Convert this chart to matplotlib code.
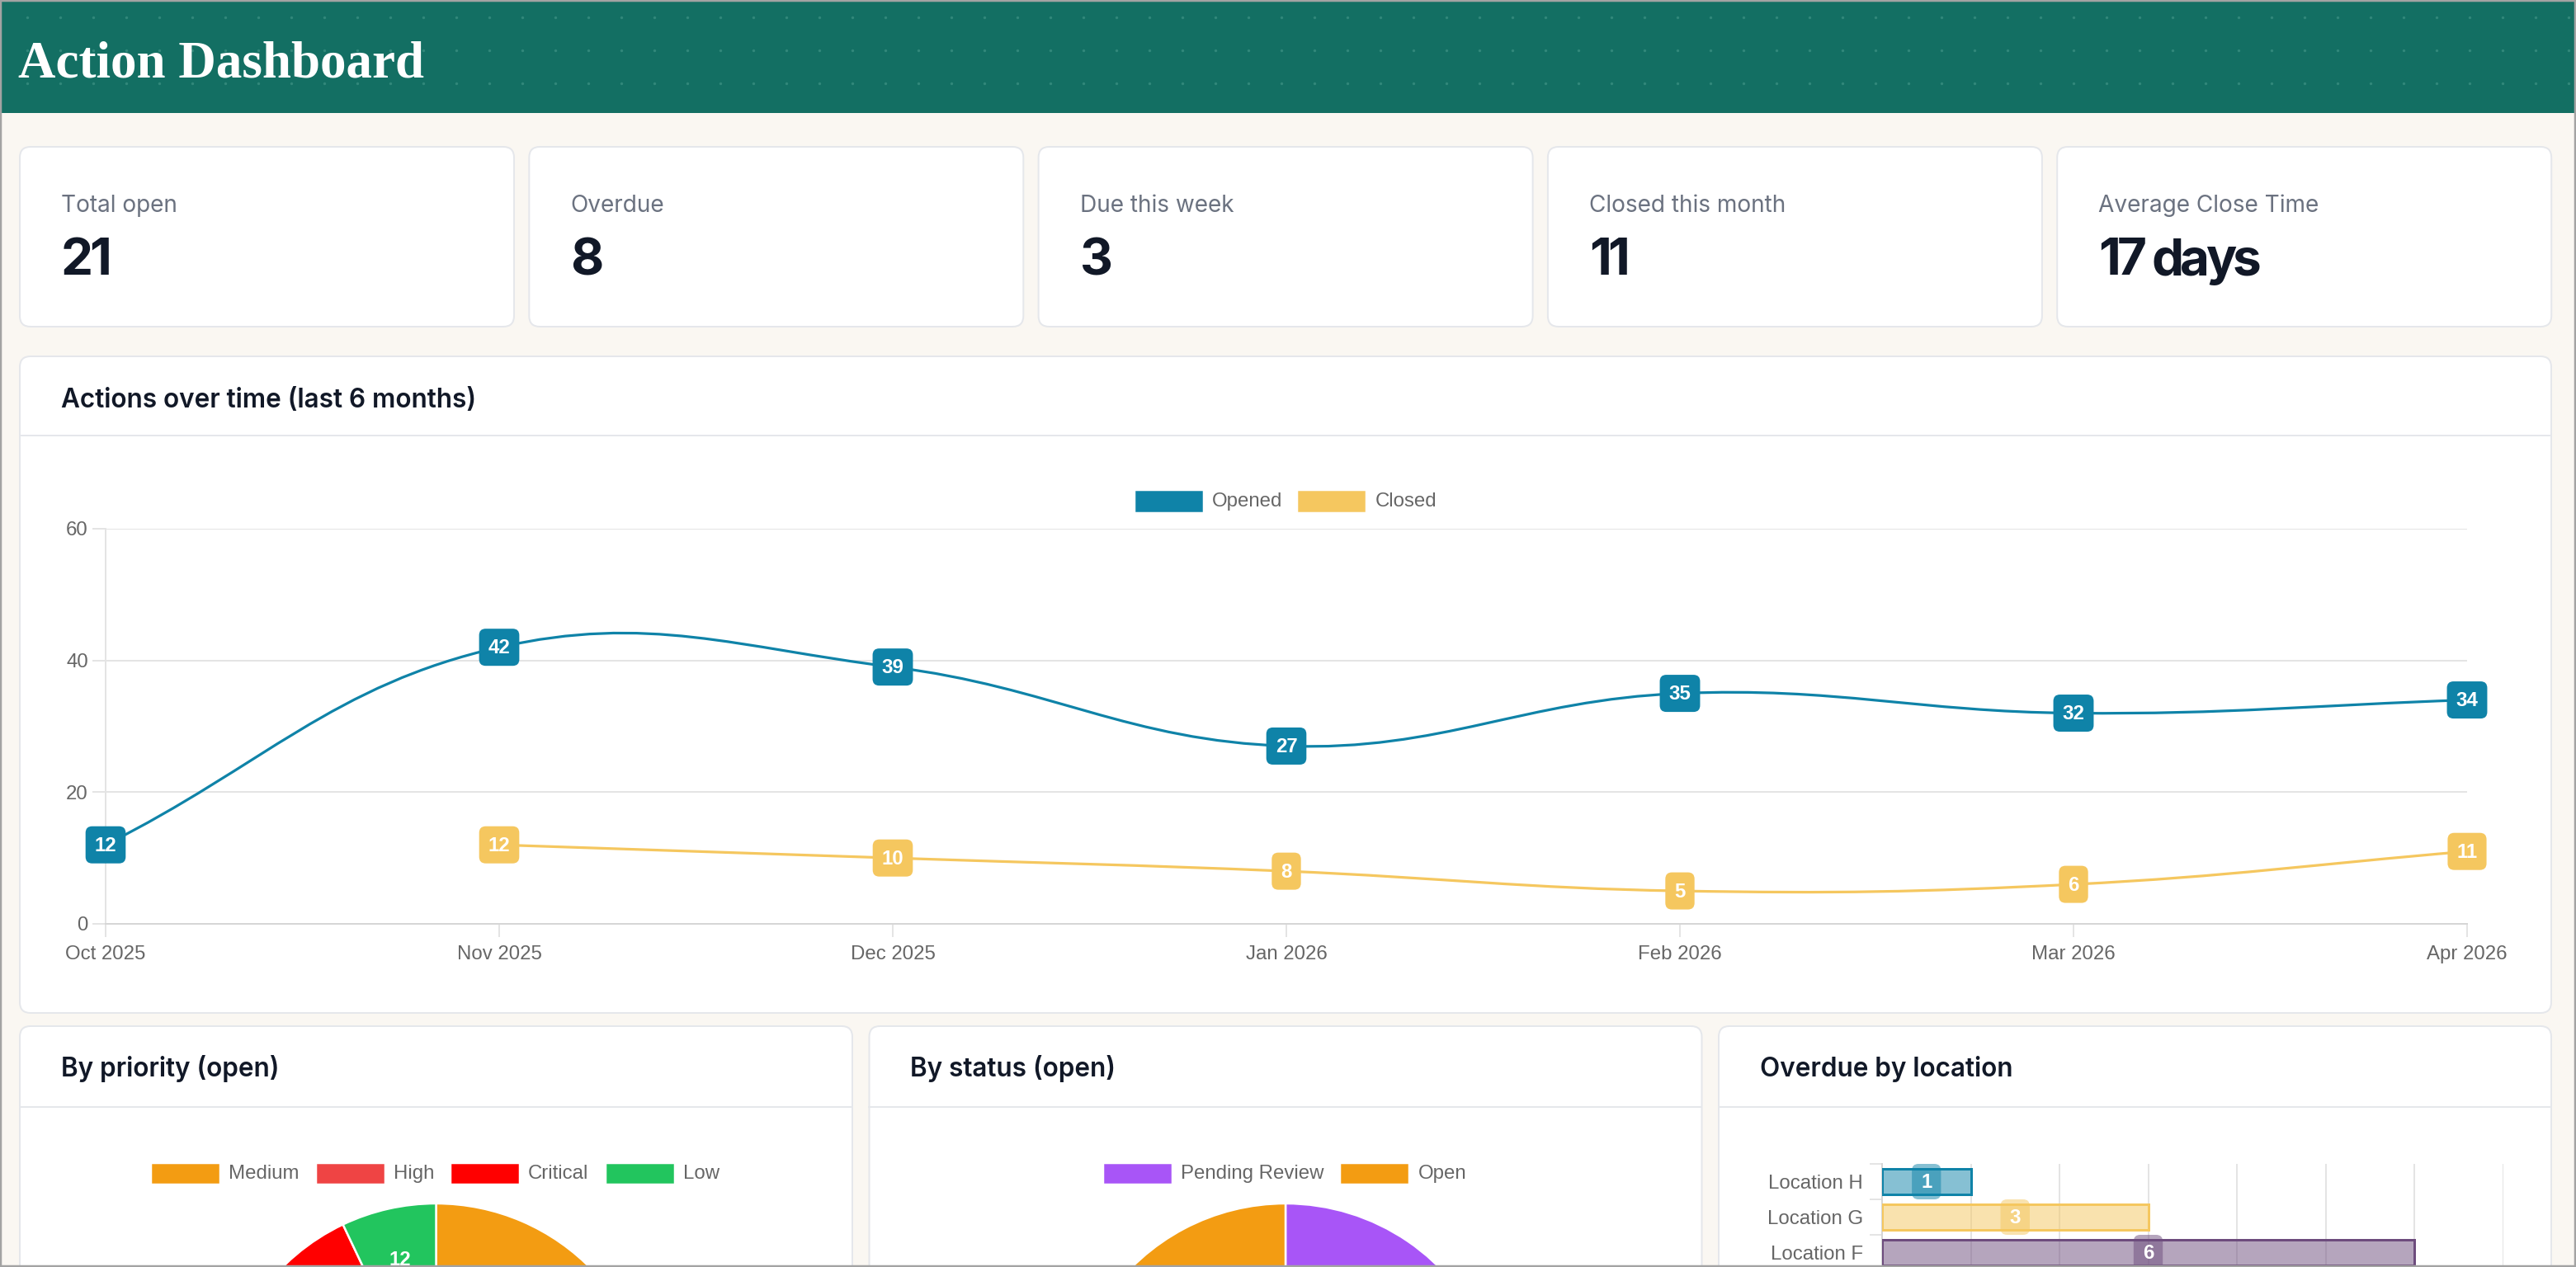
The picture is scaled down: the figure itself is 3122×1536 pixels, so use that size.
import numpy as np
import matplotlib
matplotlib.use("Agg")
import matplotlib.pyplot as plt
from matplotlib.patches import FancyBboxPatch, Rectangle
from matplotlib.path import Path
from matplotlib.patches import PathPatch
from matplotlib.colors import to_rgba

# ---------------- data ----------------
kpi_labels = ["Total open", "Overdue", "Due this week", "Closed this month", "Average Close Time"]
kpi_values = ["21", "8", "3", "11", "17 days"]

months = ["Oct 2025", "Nov 2025", "Dec 2025", "Jan 2026", "Feb 2026", "Mar 2026", "Apr 2026"]
opened = [12, 42, 39, 27, 35, 32, 34]
closed = [None, 12, 10, 8, 5, 6, 11]

priority_labels = ["Medium", "High", "Critical", "Low"]
priority_values = [88, 42, 28, 12]
priority_colors = ["#F39C12", "#EF4444", "#FF0000", "#22C55E"]

status_labels = ["Pending Review", "Open"]
status_values = [8, 13]
status_colors = ["#A855F7", "#F39C12"]

locations = ["Location H", "Location G", "Location F"]
location_overdue = [1, 3, 6]
location_colors = ["#0F83A8", "#F5C75F", "#6D4C7D"]

OPEN_C = "#0F83A8"
CLOSE_C = "#F5C75F"

# ---------------- figure ----------------
W, H = 3122, 1536
DPI = 100
fig = plt.figure(figsize=(W / DPI, H / DPI), dpi=DPI)
PT = 72.0 / DPI  # px -> pt

SANS = ["Inter", "DejaVu Sans"]
CJS = ["Liberation Sans", "DejaVu Sans"]


def ax_at(x, y, w, h, **kw):
    return fig.add_axes([x / W, 1 - (y + h) / H, w / W, h / H], **kw)


def px_axes(x, y, w, h):
    a = ax_at(x, y, w, h)
    a.set_xlim(0, w)
    a.set_ylim(h, 0)
    a.axis("off")
    return a


bg = px_axes(0, 0, W, H)
bg.add_patch(Rectangle((0, 0), W, H, facecolor="#FAF7F2", edgecolor="none", zorder=0))
renderer = fig.canvas.get_renderer()


def text_w(s, **kw):
    t = bg.text(0, 0, s, **kw)
    w = t.get_window_extent(renderer).width
    t.remove()
    return w


def tracked_text(a, x, y, s, tracking, **kw):
    for i, ch in enumerate(s):
        if ch == " ":
            continue
        off = text_w(s[:i + 1], **kw) - text_w(ch, **kw)
        a.text(x + off + tracking * i, y, ch, **kw)


# header
bg.add_patch(Rectangle((0, 0), W, 137, facecolor="#136F63", edgecolor="none", zorder=1))
dx = np.arange(33, W, 40)
dy = np.arange(21, 137, 40)
DX, DY = np.meshgrid(dx, dy)
bg.scatter(DX.ravel(), DY.ravel(), s=6, color="#31877A", linewidths=0, zorder=2)
bg.text(22, 93, "Action Dashboard", color="white", fontsize=63 * PT,
        family=["Liberation Serif", "DejaVu Serif"], weight="bold", va="baseline", zorder=3)


def card(x, y, w, h):
    bg.add_patch(FancyBboxPatch((x, y), w, h, boxstyle="round,pad=0,rounding_size=13",
                                facecolor="white", edgecolor="#E5E7EB", linewidth=2 * PT, zorder=2))


# KPI cards
KW, KP = 599, 617.3
for i, (lab, val) in enumerate(zip(kpi_labels, kpi_values)):
    x0 = 24 + i * KP
    card(x0, 178, KW, 218)
    bg.text(x0 + 50, 257, lab, color="#6B7280", fontsize=28 * PT, family=SANS, va="baseline", zorder=3)
    tracked_text(bg, x0 + 50, 333, val, -4.5, color="#111827", fontsize=62 * PT, family=SANS,
                 weight="bold", va="baseline", zorder=3)

# line card
CR = 3092
card(24, 432, CR - 24, 796)
bg.plot([24, CR], [528, 528], color="#E5E7EB", lw=2 * PT, zorder=3)
bg.text(74, 494, "Actions over time (last 6 months)", color="#111827", fontsize=31.5 * PT,
        family=SANS, weight="semibold", va="baseline", zorder=3)

# bottom cards
bottom_titles = ["By priority (open)", "By status (open)", "Overdue by location"]
BW, BP = 1009, 1029.5
bottom_x = [24 + i * BP for i in range(3)]
for x0, t in zip(bottom_x, bottom_titles):
    card(x0, 1244, BW, 400)
    bg.plot([x0, x0 + BW], [1342, 1342], color="#E5E7EB", lw=2 * PT, zorder=3)
    bg.text(x0 + 50, 1305, t, color="#111827", fontsize=31.5 * PT, family=SANS, weight="semibold",
            va="baseline", zorder=3)


def legend_row(cx, cy, labels, colors, box_w=80, box_h=24, gap_text=12, gap_item=22):
    fs = 24 * PT
    widths = [text_w(lab, fontsize=fs, family=CJS) for lab in labels]
    total = sum(box_w + gap_text + w for w in widths) + gap_item * (len(labels) - 1)
    x = cx - total / 2
    for lab, c, w in zip(labels, colors, widths):
        bg.add_patch(Rectangle((x, cy - box_h / 2), box_w, box_h, facecolor=c, edgecolor=c,
                               linewidth=1.5 * PT, zorder=4))
        bg.text(x + box_w + gap_text, cy, lab, fontsize=fs, family=CJS, color="#666666",
                va="center", zorder=4)
        x += box_w + gap_text + w + gap_item


# ---------------- line chart ----------------
LX0, LX1, LY0, LY1 = 128, 2990, 641, 1120
ax = ax_at(LX0, LY0, LX1 - LX0, LY1 - LY0)
ax.set_xlim(0, len(months) - 1)
ax.set_ylim(0, 60)
ax.set_facecolor("none")
sx = (LX1 - LX0) / (len(months) - 1)
sy = (LY1 - LY0) / 60.0


def bezier(xs, ys, tension=0.4):
    P = np.array([[x * sx, y * sy] for x, y in zip(xs, ys)], dtype=float)
    n = len(P)
    cprev, cnext = [], []
    for i in range(n):
        prev = P[i - 1] if i > 0 else P[i]
        nxt = P[i + 1] if i < n - 1 else P[i]
        cur = P[i]
        d01 = np.hypot(*(cur - prev))
        d12 = np.hypot(*(nxt - cur))
        tot = d01 + d12
        s01 = d01 / tot if tot > 0 else 0
        s12 = d12 / tot if tot > 0 else 0
        cprev.append(cur - tension * s01 * (nxt - prev))
        cnext.append(cur + tension * s12 * (nxt - prev))
    verts = [P[0]]
    codes = [Path.MOVETO]
    for i in range(n - 1):
        verts += [cnext[i], cprev[i + 1], P[i + 1]]
        codes += [Path.CURVE4] * 3
    verts = np.array(verts) / np.array([sx, sy])
    return Path(verts, codes)


xi = np.arange(len(months))
ax.add_patch(PathPatch(bezier(xi, opened), facecolor="none", edgecolor=OPEN_C, lw=3.2 * PT, zorder=3,
                       clip_on=False))
cx_ = [i for i, v in enumerate(closed) if v is not None]
cy_ = [v for v in closed if v is not None]
ax.add_patch(PathPatch(bezier(cx_, cy_), facecolor="none", edgecolor=CLOSE_C, lw=3.2 * PT, zorder=3,
                       clip_on=False))

GRID = "#E4E4E4"
ax.set_yticks([0, 20, 40, 60])
ax.yaxis.grid(True, color=GRID, lw=2 * PT)
ax.set_axisbelow(True)
ax.set_xticks(xi)
ax.set_xticklabels(months)
for s in ["top", "right"]:
    ax.spines[s].set_visible(False)
ax.spines["left"].set_color(GRID)
ax.spines["bottom"].set_color("#D6D6D6")
ax.spines["left"].set_linewidth(2 * PT)
ax.spines["bottom"].set_linewidth(2 * PT)
ax.tick_params(axis="y", length=16 * PT, width=2 * PT, color=GRID, pad=5 * PT, labelsize=24 * PT,
               labelcolor="#666666")
ax.tick_params(axis="x", length=16 * PT, width=2 * PT, color=GRID, pad=10 * PT, labelsize=24 * PT,
               labelcolor="#666666")
for lab in ax.get_xticklabels() + ax.get_yticklabels():
    lab.set_family(CJS)

legend_row((LX0 + LX1) / 2, 608, ["Opened", "Closed"], [OPEN_C, CLOSE_C], gap_item=20)

# ---------------- pies ----------------
R = 263
PCY = 1722


def pie_at(cx, labels, values, colors):
    a = ax_at(cx - R, PCY - R, 2 * R, 2 * R)
    wedges, _ = a.pie(values, colors=colors, startangle=90, counterclock=False, radius=1,
                      wedgeprops=dict(edgecolor="white", linewidth=2.5 * PT))
    for w_, v in zip(wedges, values):
        ang = np.deg2rad((w_.theta1 + w_.theta2) / 2)
        lx, ly = 0.76 * np.cos(ang), 0.76 * np.sin(ang)
        if PCY - ly * R < H:  # only labels whose centre lies inside the picture
            a.text(lx, ly, str(v), ha="center", va="center", color="white", fontsize=24 * PT,
                   weight="bold", family=CJS)
    a.set_xlim(-1, 1)
    a.set_ylim(-1, 1)
    a.axis("off")
    legend_row(cx, 1423, labels, colors, box_h=22)


pie_at(bottom_x[0] + BW / 2, priority_labels, priority_values, priority_colors)
pie_at(bottom_x[1] + BW / 2, status_labels, status_values, status_colors)

# ---------------- location bars ----------------
BX0, BTOP, UNIT, ROW = 2281, 1411, 107.5, 43
XMAX = 7
bx = ax_at(BX0, BTOP, UNIT * XMAX, ROW * len(locations))
bx.set_facecolor("none")
yy = np.arange(len(locations))
for yv, v, c in zip(yy, location_overdue, location_colors):
    bx.barh(yv, v, height=0.72, color=to_rgba(c, 0.5), edgecolor=c, linewidth=3 * PT, zorder=3)
bx.set_xlim(0, XMAX)
bx.set_ylim(len(locations) - 0.5, -0.5)
bx.set_xticks(np.arange(0, XMAX + 1))
bx.xaxis.grid(True, color=GRID, lw=2 * PT)
bx.set_axisbelow(True)
bx.set_yticks(yy)
bx.set_yticklabels(locations)
bx.set_yticks(np.arange(-0.5, len(locations)), minor=True)
bx.tick_params(axis="y", which="major", length=0, pad=23 * PT, labelsize=24 * PT, labelcolor="#666666")
bx.tick_params(axis="y", which="minor", length=15 * PT, width=2 * PT, color=GRID)
bx.tick_params(axis="x", length=0, labelbottom=False)
for lab in bx.get_yticklabels():
    lab.set_family(CJS)
for s in ["top", "right", "bottom"]:
    bx.spines[s].set_visible(False)
bx.spines["left"].set_color("#D6D6D6")
bx.spines["left"].set_linewidth(2 * PT)

# ---------------- overlay: data labels and frame ----------------
ov = px_axes(0, 0, W, H)


def value_label(x, y, s, fc, h=45, padx=11):
    w = text_w(s, fontsize=24 * PT, family=CJS, weight="bold") + 2 * padx
    ov.add_patch(FancyBboxPatch((x - w / 2, y - h / 2), w, h, boxstyle="round,pad=0,rounding_size=8",
                                facecolor=fc, edgecolor="none", zorder=5))
    ov.text(x, y + 1, s, ha="center", va="center", color="white", fontsize=24 * PT, family=CJS,
            weight="bold", zorder=6)


def to_px(a, x, y):
    X, Y = a.transData.transform((x, y))
    return X, H - Y


for i, v in enumerate(opened):
    value_label(*to_px(ax, i, v), str(v), OPEN_C)
for i, v in zip(cx_, cy_):
    value_label(*to_px(ax, i, v), str(v), CLOSE_C)
for yv, v, c in zip(yy, location_overdue, location_colors):
    value_label(*to_px(bx, v / 2, yv), str(v), to_rgba(c, 0.5), h=43, padx=11)

ov.add_patch(Rectangle((1, 1), W - 2, H - 2, facecolor="none", edgecolor="#A3A3A3", linewidth=2.5 * PT,
                       zorder=10))

fig.savefig("out.png", dpi=DPI)
